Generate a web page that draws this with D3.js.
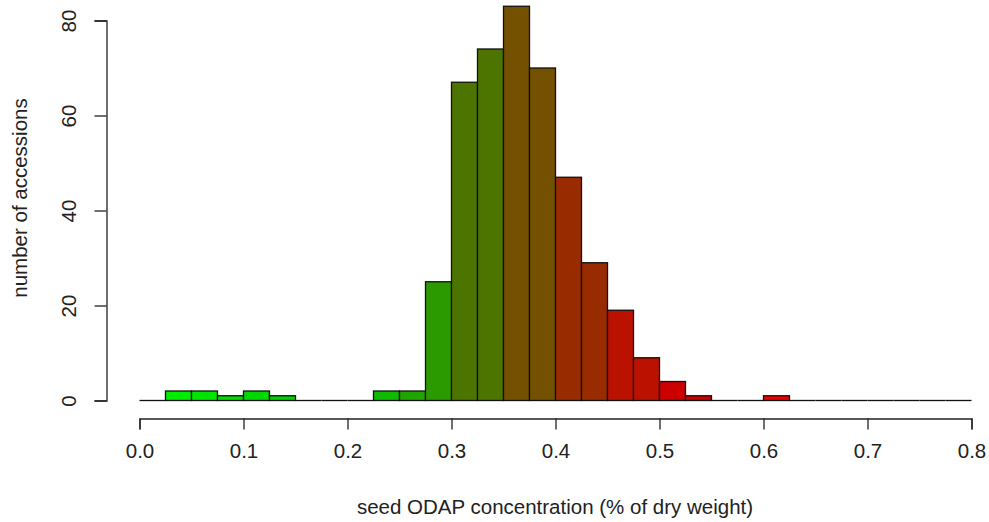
<!DOCTYPE html>
<html>
<head>
<meta charset="utf-8">
<script src="https://cdn.jsdelivr.net/npm/d3@7"></script>
<style>
  body { margin: 0; background: #fff; }
  svg { display: block; font-family: "Liberation Sans", Arial, sans-serif; }
  .axis text { font-size: 20.5px; fill: #222; }
  .axis path, .axis line { stroke: #222; }
</style>
</head>
<body>
<svg width="989" height="522"></svg>
<script>
// histogram bins, width 0.025 from 0 to 0.8
var binStart = d3.range(0, 32).map(function (i) { return +(i * 0.025).toFixed(3); });
var binWidth = 0.025;
var counts = [0, 2, 2, 1, 2, 1, 0, 0, 0, 2, 2, 25, 67, 74, 83, 70,
              47, 29, 19, 9, 4, 1, 0, 0, 1, 0, 0, 0, 0, 0, 0, 0];
var barColors = ["#00ee00", "#00ec00", "#00e600", "#00dd00", "#00d800", "#00d000",
                 "#00c800", "#00c400", "#00c000", "#0fbb00", "#20a400", "#2a9a00",
                 "#4c7500", "#4c7500", "#745100", "#745100", "#992b00", "#992b00",
                 "#bb1100", "#bb1100", "#cc0000", "#c80000", "#cc0000", "#d80000",
                 "#ee0000", "#ee0000", "#ee0000", "#ee0000", "#ee0000", "#ee0000",
                 "#ee0000", "#ee0000"];
var xTicks = [0, 0.1, 0.2, 0.3, 0.4, 0.5, 0.6, 0.7, 0.8];
var yTicks = [0, 20, 40, 60, 80];

var svg = d3.select("svg");

var x = d3.scaleLinear().domain([0, 0.8]).range([139.5, 971.5]),
    y = d3.scaleLinear().domain([0, 80]).range([400.5, 20.5]);

var data = binStart.map(function (s, i) {
    return { x0: s, x1: s + binWidth, n: counts[i], color: barColors[i] };
});

var bars = svg.append("g");

bars.selectAll("rect")
    .data(data.filter(function (d) { return d.n > 0; }))
    .enter().append("rect")
    .attr("x", function (d) { return x(d.x0); })
    .attr("y", function (d) { return y(d.n); })
    .attr("width", function (d) { return x(d.x1) - x(d.x0); })
    .attr("height", function (d) { return y(0) - y(d.n); })
    .attr("fill", function (d) { return d.color; })
    .attr("stroke", "#111")
    .attr("stroke-width", 1.3);

// empty bins collapse to a flat line, as in R
bars.selectAll("line")
    .data(data.filter(function (d) { return d.n === 0; }))
    .enter().append("line")
    .attr("x1", function (d) { return x(d.x0); })
    .attr("x2", function (d) { return x(d.x1); })
    .attr("y1", y(0))
    .attr("y2", y(0))
    .attr("stroke", "#111")
    .attr("stroke-width", 1.3);

// x axis, detached below the bars like R
var gx = svg.append("g")
    .attr("class", "axis")
    .attr("transform", "translate(0,418.5)")
    .call(d3.axisBottom(x).tickValues(xTicks).tickFormat(d3.format(".1f"))
        .tickSizeOuter(0).tickSize(11).tickPadding(14));
gx.select(".domain").attr("stroke-width", 1.3);
gx.selectAll("line").attr("stroke-width", 1.3);

// y axis
var gy = svg.append("g")
    .attr("class", "axis")
    .attr("transform", "translate(106.5,0)")
    .call(d3.axisLeft(y).tickValues(yTicks).tickSizeOuter(0).tickSize(12));
gy.select(".domain").attr("stroke-width", 1.3);
gy.selectAll("line").attr("stroke-width", 1.3);
gy.selectAll("text")
    .attr("x", null).attr("dy", null)
    .attr("text-anchor", "middle")
    .attr("transform", "translate(-31,0) rotate(-90)")
    .attr("y", 0);

svg.append("text")
    .attr("x", 555)
    .attr("y", 514)
    .attr("text-anchor", "middle")
    .attr("font-size", 20.5)
    .attr("fill", "#222")
    .text("seed ODAP concentration (% of dry weight)");

svg.append("text")
    .attr("transform", "translate(27,198) rotate(-90)")
    .attr("text-anchor", "middle")
    .attr("font-size", 20.5)
    .attr("fill", "#222")
    .text("number of accessions");
</script>
</body>
</html>
